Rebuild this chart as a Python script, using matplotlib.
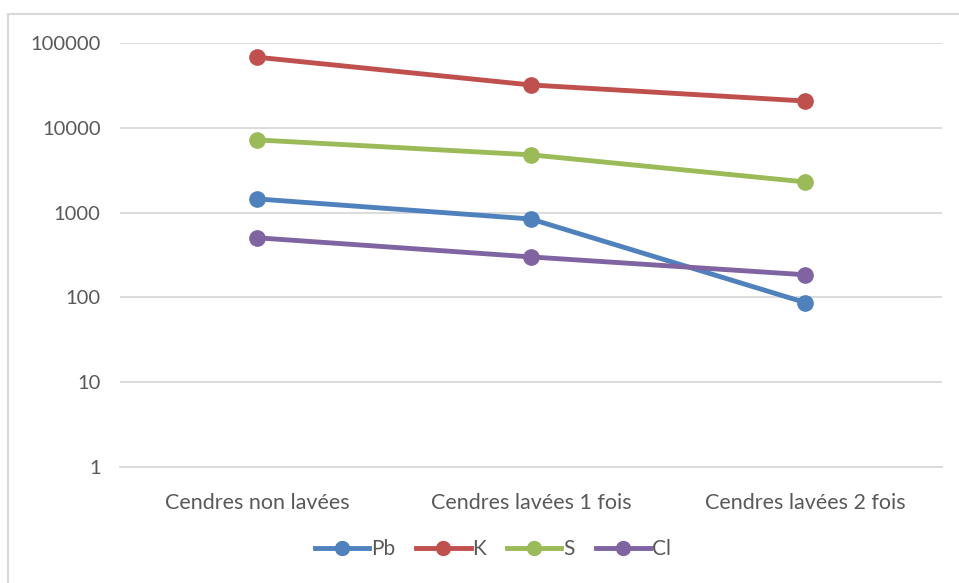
import matplotlib.pyplot as plt
from matplotlib.lines import Line2D
import numpy as np

categories = ['Cendres non lavées', 'Cendres lavées 1 fois', 'Cendres lavées 2 fois']
series_names = ['Pb', 'K', 'S', 'Cl']
pb = [1450, 840, 87]
k = [68000, 32000, 20700]
s = [7200, 4800, 2300]
cl = [505, 300, 185]
colors = ['#4F81BD', '#C0504D', '#9BBB59', '#8064A2']
tick_values = [1, 10, 100, 1000, 10000, 100000]

plt.rcParams['font.family'] = ['Lato', 'DejaVu Sans']

fig = plt.figure(figsize=(9.59, 5.83), dpi=100)
W, H = 959, 583
ax = fig.add_axes([120 / W, 1 - 467 / H, (942 - 120) / W, (467 - 43) / H])

x = np.arange(len(categories))
for name, vals, c in zip(series_names, [pb, k, s, cl], colors):
    ax.plot(x, vals, color=c, lw=3.5, marker='o', ms=11, label=name,
            solid_capstyle='round')

ax.set_yscale('log')
ax.set_ylim(1, 100000)
ax.set_xlim(-0.5, 2.5)
ax.set_yticks(tick_values)
ax.set_yticklabels([str(v) for v in tick_values])
ax.minorticks_off()
ax.set_xticks(x)
ax.set_xticklabels(categories, fontsize=15.5)
ax.tick_params(axis='both', length=0, colors='#595959')
ax.tick_params(axis='y', labelsize=14.5, pad=14)
ax.tick_params(axis='x', pad=19)
ax.grid(axis='y', color='#D9D9D9', lw=1.3)
ax.set_axisbelow(True)
for sp in ['top', 'right', 'left']:
    ax.spines[sp].set_visible(False)
ax.spines['bottom'].set_color('#D9D9D9')
ax.spines['bottom'].set_linewidth(1.3)

handles = [Line2D([0], [0], color=c, lw=3.5, marker='o', ms=10) for c in colors]
fig.legend(handles, series_names, loc='center', bbox_to_anchor=(493 / W, 1 - 549 / H),
           ncol=4, frameon=False, fontsize=15, labelcolor='#595959',
           handlelength=2.6, columnspacing=1.0, handletextpad=0.1)

# chart border (left and top edges visible)
fig.add_artist(Line2D([8 / W, 8 / W], [0, 1 - 14 / H], color='#D9D9D9', lw=1.5))
fig.add_artist(Line2D([8 / W, 1], [1 - 14 / H, 1 - 14 / H], color='#D9D9D9', lw=1.5))

fig.savefig('out.png', dpi=100)
plt.close(fig)
